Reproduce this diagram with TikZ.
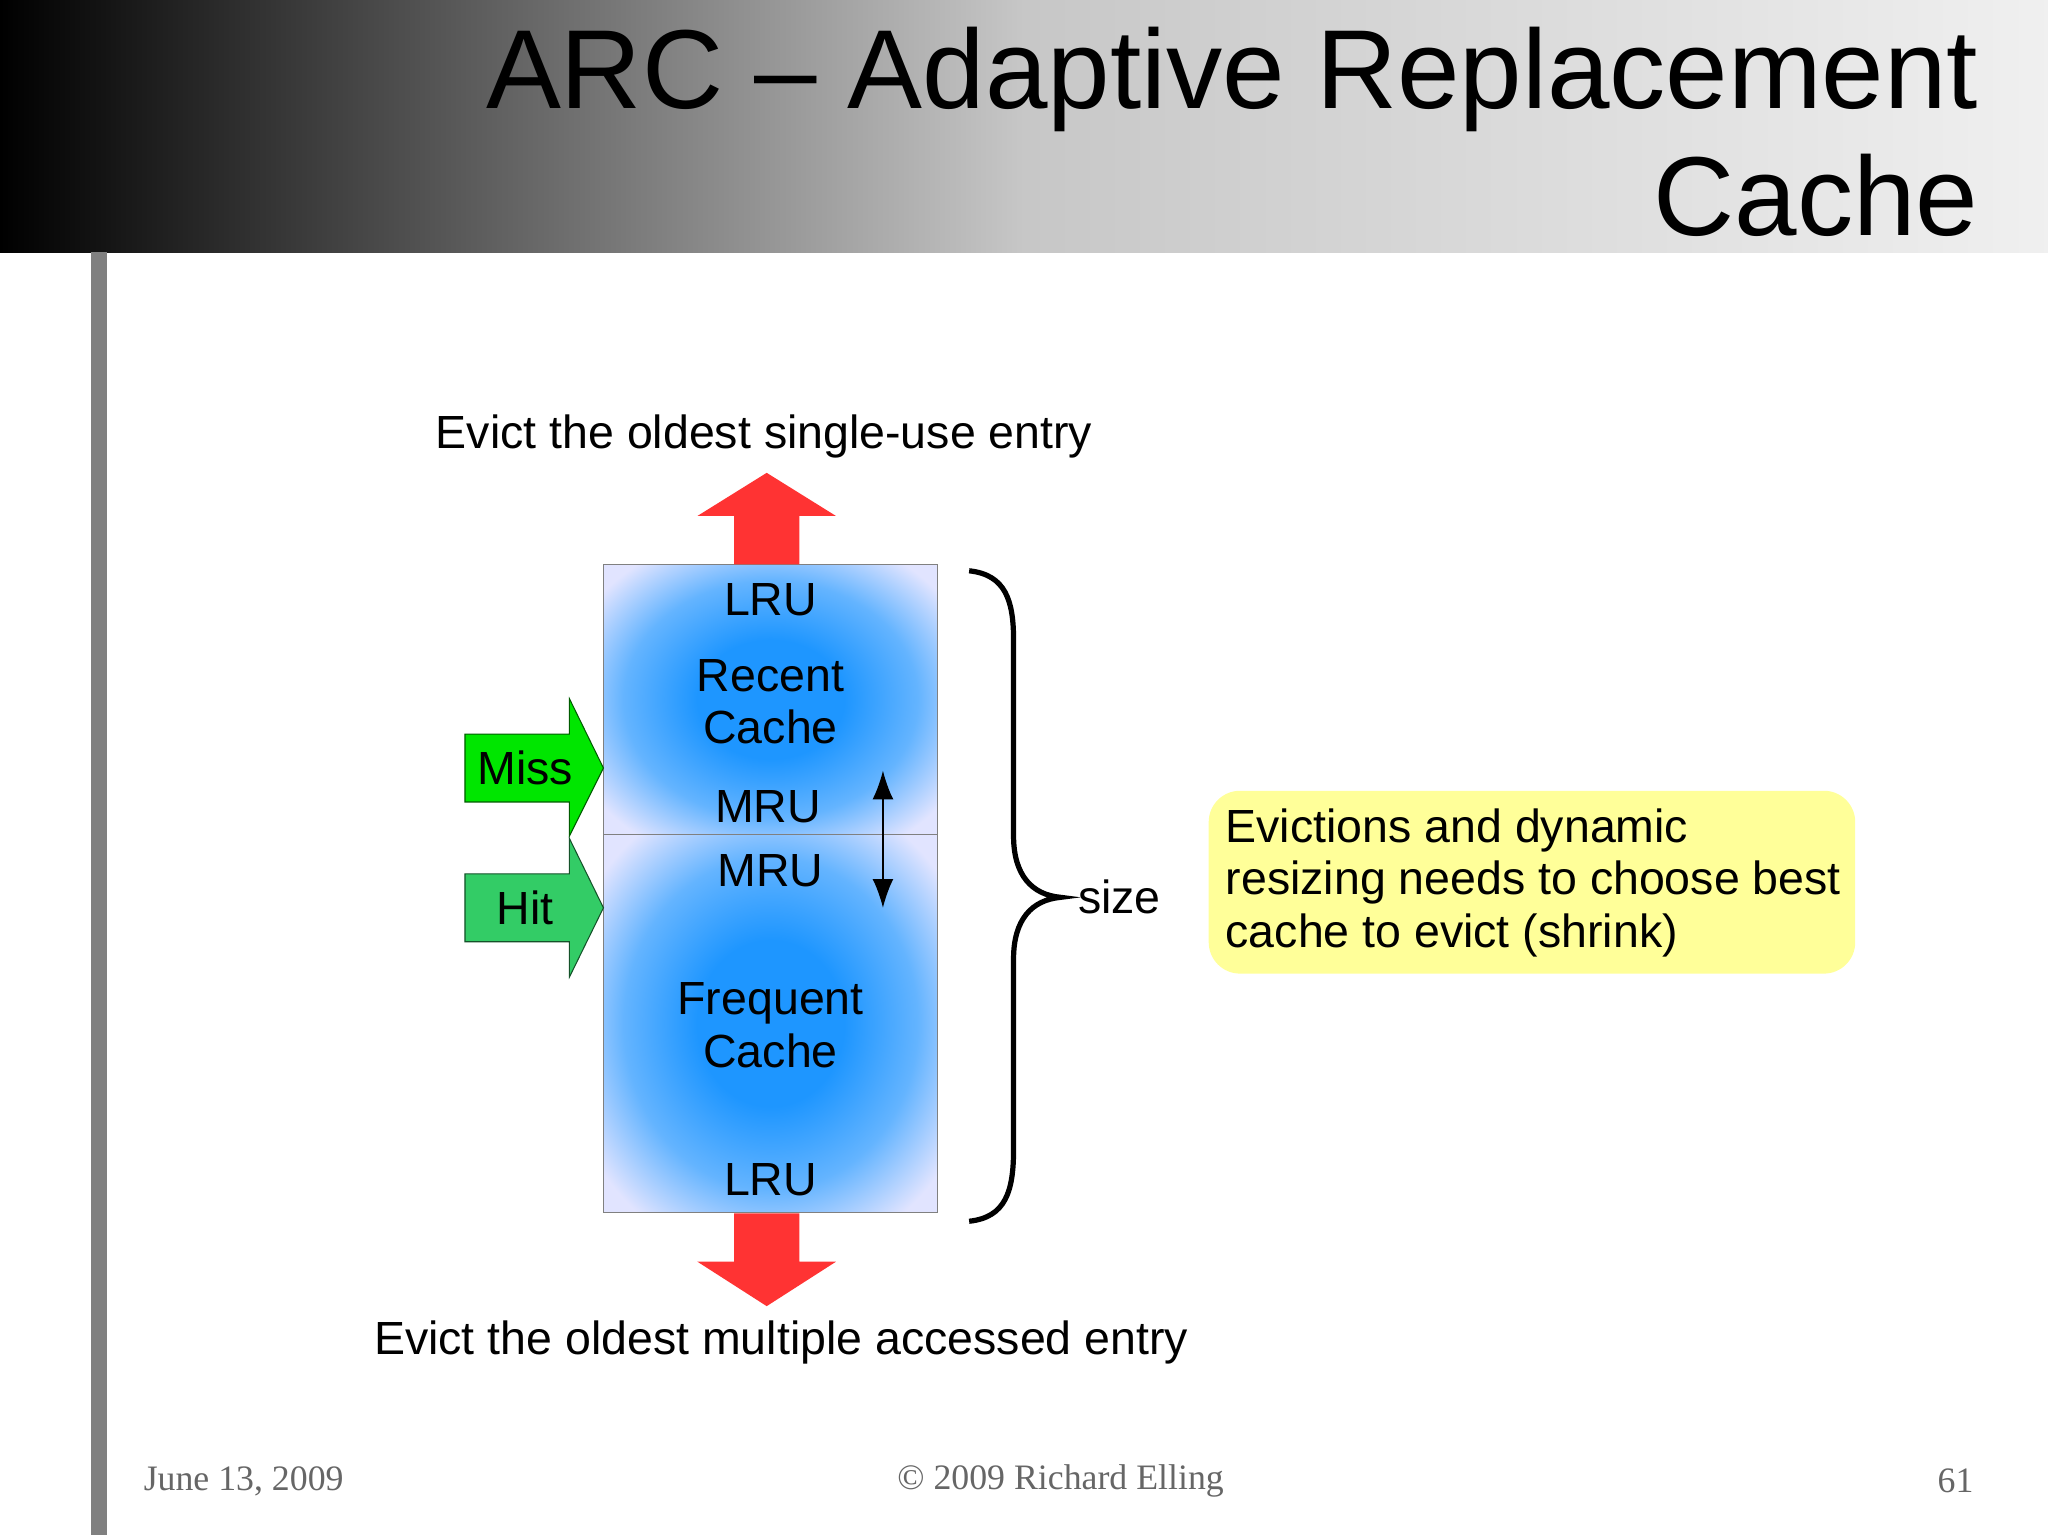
\documentclass[tikz,border=0pt]{standalone}
\usepackage{fontspec}
\setmainfont{Liberation Sans}
\newfontfamily\serif{Liberation Serif}
\usetikzlibrary{arrows.meta}
\definecolor{redarr}{RGB}{255,51,51}
\definecolor{missg}{RGB}{0,230,0}
\definecolor{hitg}{RGB}{51,204,102}
\definecolor{yel}{RGB}{255,255,153}
\definecolor{cin}{RGB}{30,150,255}
\definecolor{cmid}{RGB}{100,180,255}
\definecolor{cout}{RGB}{225,228,255}
\pgfdeclareradialshading{cacheshade}{\pgfpoint{0bp}{0bp}}{color(0bp)=(cin); color(11bp)=(cin); color(22bp)=(cmid); color(32bp)=(cout); color(50bp)=(cout)}
\begin{document}
\begin{tikzpicture}[x=0.5pt,y=-0.5pt,
  lbl/.style={font=\fontsize{17.8}{20}\selectfont,align=center},
  big/.style={font=\fontsize{17.8}{20}\selectfont},
  foot/.style={font=\serif\fontsize{13.7}{14}\selectfont,text=black!60},
  cache/.style={shading=cacheshade}]
\useasboundingbox (0,0) rectangle (1568,1175);
\fill[white] (0,0) rectangle (1568,1175);
\shade[left color=black,right color=black!6,middle color=black!22] (0,0) rectangle (1568,193);
\fill[black!50] (70,193) rectangle (82,1175);
\node[anchor=base east,font=\fontsize{43}{48}\selectfont,inner sep=0] (t1) at (1515,83) {ARC – Adaptive Replacement};
\node[anchor=base east,font=\fontsize{43}{48}\selectfont,inner sep=0] (t2) at (1515,180) {Cache};
% cache boxes
\shade[cache] (462,432) rectangle (718,639);
\shade[cache] (462,639) rectangle (718,928);
\draw[black!50,line width=0.4pt] (462,432) rectangle (718,928) (462,639) -- (718,639);
\node[lbl] (lru1) at (590,459) {LRU};
\node[lbl] (rc) at (590,537) {Recent\\Cache};
\node[lbl] (mru1) at (588,618) {MRU};
\node[lbl] (mru2) at (590,667) {MRU};
\node[lbl] (fc) at (590,785) {Frequent\\Cache};
\node[lbl] (lru2) at (590,903) {LRU};
\coordinate (dm) at (676,643);
\coordinate (da1) at (676,590); \coordinate (da2) at (676,695);
\draw[-{Latex[length=11pt,width=8pt]},line width=0.6pt] (dm) -- (da1);
\draw[-{Latex[length=11pt,width=8pt]},line width=0.6pt] (dm) -- (da2);
% red arrows
\fill[redarr] (562,432) -- (562,395) -- (534,395) -- (587,362) -- (640,395) -- (612,395) -- (612,432) -- cycle;
\fill[redarr] (562,929) -- (562,966) -- (534,966) -- (587,1000) -- (640,966) -- (612,966) -- (612,929) -- cycle;
% miss / hit
\filldraw[fill=missg,draw=black!60!missg,line width=0.4pt] (356,562) -- (436,562) -- (436,535) -- (462,588) -- (436,640) -- (436,614) -- (356,614) -- cycle;
\node[big] (miss) at (402,588) {Miss};
\filldraw[fill=hitg,draw=black!60!hitg,line width=0.4pt] (356,669) -- (436,669) -- (436,642) -- (462,695) -- (436,748) -- (436,721) -- (356,721) -- cycle;
\node[big] (hit) at (402,695) {Hit};
% brace
\draw[line width=2pt] (742,437) .. controls (770,440) and (776,460) .. (776,490)
  -- (776,640) .. controls (776,670) and (790,685) .. (812,687)
  .. controls (790,689) and (776,704) .. (776,734) -- (776,880)
  .. controls (776,912) and (770,932) .. (742,935);
\node[big] (size) at (857,687) {size};
% note
\node[fill=yel,rounded corners=12pt,minimum width=247.5pt,minimum height=70pt,anchor=north west] (note) at (925,605) {};
\node[big,anchor=west,align=left,inner sep=0] (nt) at (938,676) {Evictions and dynamic\\resizing needs to choose best\\cache to evict (shrink)};
\node[big] (ev1) at (585,334) {Evict the oldest single-use entry};
\node[big] (ev2) at (598,1028) {Evict the oldest multiple accessed entry};
\node[foot,anchor=west] (f1) at (103,1134) {June 13, 2009};
\node[foot] (f2) at (812,1134) {© 2009 Richard Elling};
\node[foot,anchor=east] (f3) at (1518,1134) {61};
\end{tikzpicture}
\end{document}
